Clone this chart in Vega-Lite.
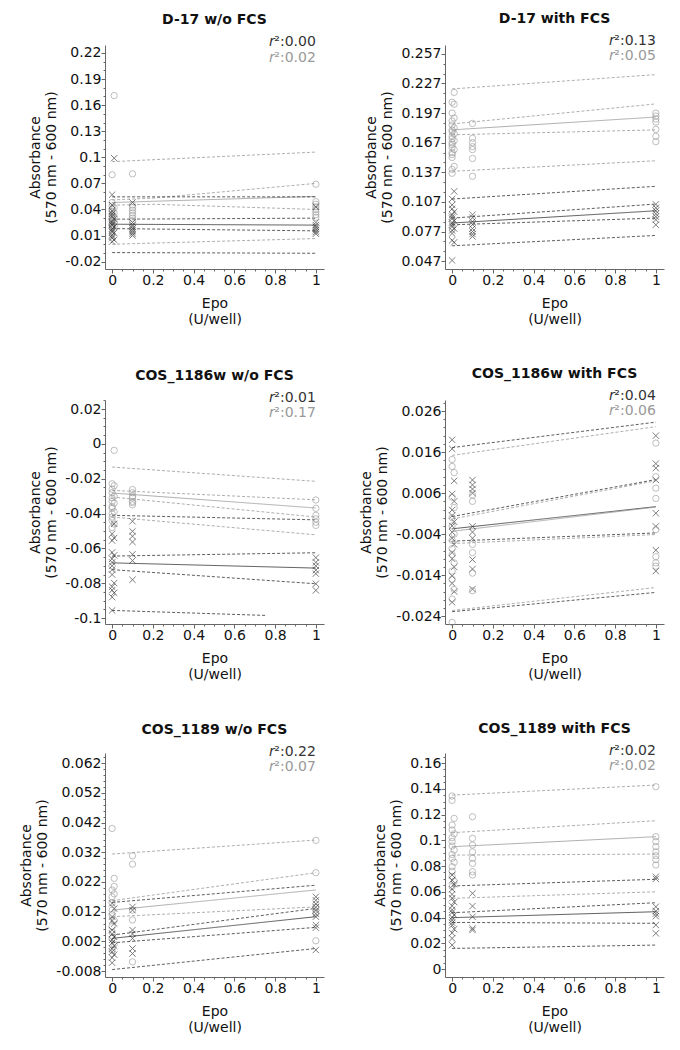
{
"$schema":"https://vega.github.io/schema/vega-lite/v6.json",
"padding":{"left":19,"top":12,"right":5,"bottom":5},
"config":{"font":"DejaVu Sans","view":{"stroke":null},
 "axis":{"grid":false,"labelFontSize":14,"titleFontSize":14,"titleFontWeight":"normal","domainColor":"#666","tickColor":"#666","labelColor":"#111","titleColor":"#111","tickSize":4,"labelPadding":0,"titleLineHeight":16,"labelOverlap":false},
 "axisX":{"titlePadding":9},
 "axisY":{"titlePadding":6},
 "title":{"fontSize":14,"fontWeight":"bold","color":"#111","offset":8}},
"datasets":{
"pts":[
{"p":1,"g":"g","x":0.01,"y":0.171},{"p":1,"g":"g","x":0,"y":0.080},{"p":1,"g":"g","x":0,"y":0.048},{"p":1,"g":"g","x":0,"y":0.044},{"p":1,"g":"g","x":0.01,"y":0.042},{"p":1,"g":"g","x":0,"y":0.040},{"p":1,"g":"g","x":0,"y":0.038},{"p":1,"g":"g","x":0.01,"y":0.036},{"p":1,"g":"g","x":0,"y":0.034},{"p":1,"g":"g","x":0,"y":0.032},{"p":1,"g":"g","x":0.01,"y":0.031},{"p":1,"g":"g","x":0,"y":0.029},{"p":1,"g":"g","x":0,"y":0.027},{"p":1,"g":"g","x":0.01,"y":0.026},{"p":1,"g":"g","x":0,"y":0.024},{"p":1,"g":"g","x":0,"y":0.022},{"p":1,"g":"g","x":0.01,"y":0.021},{"p":1,"g":"g","x":0,"y":0.019},
{"p":1,"g":"g","x":0.1,"y":0.081},{"p":1,"g":"g","x":0.1,"y":0.045},{"p":1,"g":"g","x":0.1,"y":0.042},{"p":1,"g":"g","x":0.1,"y":0.039},{"p":1,"g":"g","x":0.1,"y":0.036},{"p":1,"g":"g","x":0.1,"y":0.033},{"p":1,"g":"g","x":0.1,"y":0.030},{"p":1,"g":"g","x":0.1,"y":0.027},
{"p":1,"g":"g","x":1,"y":0.069},{"p":1,"g":"g","x":1,"y":0.049},{"p":1,"g":"g","x":1,"y":0.046},{"p":1,"g":"g","x":1,"y":0.043},{"p":1,"g":"g","x":1,"y":0.040},{"p":1,"g":"g","x":1,"y":0.037},{"p":1,"g":"g","x":1,"y":0.034},{"p":1,"g":"g","x":1,"y":0.031},
{"p":1,"g":"b","x":0.01,"y":0.099},{"p":1,"g":"b","x":0,"y":0.057},{"p":1,"g":"b","x":0,"y":0.045},{"p":1,"g":"b","x":0,"y":0.038},{"p":1,"g":"b","x":0,"y":0.035},{"p":1,"g":"b","x":0,"y":0.032},{"p":1,"g":"b","x":0.01,"y":0.029},{"p":1,"g":"b","x":0,"y":0.026},{"p":1,"g":"b","x":0,"y":0.024},{"p":1,"g":"b","x":0,"y":0.022},{"p":1,"g":"b","x":0.01,"y":0.020},{"p":1,"g":"b","x":0,"y":0.018},{"p":1,"g":"b","x":0,"y":0.016},{"p":1,"g":"b","x":0,"y":0.014},{"p":1,"g":"b","x":0.01,"y":0.013},{"p":1,"g":"b","x":0,"y":0.011},{"p":1,"g":"b","x":0,"y":0.009},{"p":1,"g":"b","x":0,"y":0.007},{"p":1,"g":"b","x":0.01,"y":0.005},{"p":1,"g":"b","x":0,"y":0.003},
{"p":1,"g":"b","x":0.1,"y":0.048},{"p":1,"g":"b","x":0.1,"y":0.025},{"p":1,"g":"b","x":0.1,"y":0.022},{"p":1,"g":"b","x":0.1,"y":0.020},{"p":1,"g":"b","x":0.1,"y":0.018},{"p":1,"g":"b","x":0.1,"y":0.016},{"p":1,"g":"b","x":0.1,"y":0.014},{"p":1,"g":"b","x":0.1,"y":0.012},{"p":1,"g":"b","x":0.1,"y":0.010},
{"p":1,"g":"b","x":1,"y":0.043},{"p":1,"g":"b","x":1,"y":0.025},{"p":1,"g":"b","x":1,"y":0.022},{"p":1,"g":"b","x":1,"y":0.020},{"p":1,"g":"b","x":1,"y":0.018},{"p":1,"g":"b","x":1,"y":0.016},{"p":1,"g":"b","x":1,"y":0.014},{"p":1,"g":"b","x":1,"y":0.012},

{"p":2,"g":"g","x":0.01,"y":0.218},{"p":2,"g":"g","x":0,"y":0.208},{"p":2,"g":"g","x":0.01,"y":0.206},{"p":2,"g":"g","x":0,"y":0.197},{"p":2,"g":"g","x":0.01,"y":0.192},{"p":2,"g":"g","x":0,"y":0.189},{"p":2,"g":"g","x":0,"y":0.185},{"p":2,"g":"g","x":0.01,"y":0.182},{"p":2,"g":"g","x":0,"y":0.180},{"p":2,"g":"g","x":0,"y":0.178},{"p":2,"g":"g","x":0.01,"y":0.176},{"p":2,"g":"g","x":0,"y":0.1735},{"p":2,"g":"g","x":0,"y":0.171},{"p":2,"g":"g","x":0.01,"y":0.169},{"p":2,"g":"g","x":0,"y":0.167},{"p":2,"g":"g","x":0,"y":0.165},{"p":2,"g":"g","x":0,"y":0.162},{"p":2,"g":"g","x":0.01,"y":0.160},{"p":2,"g":"g","x":0,"y":0.157},{"p":2,"g":"g","x":0,"y":0.155},{"p":2,"g":"g","x":0,"y":0.152},{"p":2,"g":"g","x":0.01,"y":0.143},{"p":2,"g":"g","x":0,"y":0.140},{"p":2,"g":"g","x":0,"y":0.136},
{"p":2,"g":"g","x":0.1,"y":0.1865},{"p":2,"g":"g","x":0.1,"y":0.1715},{"p":2,"g":"g","x":0.1,"y":0.167},{"p":2,"g":"g","x":0.1,"y":0.163},{"p":2,"g":"g","x":0.1,"y":0.160},{"p":2,"g":"g","x":0.1,"y":0.151},{"p":2,"g":"g","x":0.1,"y":0.133},
{"p":2,"g":"g","x":1,"y":0.197},{"p":2,"g":"g","x":1,"y":0.194},{"p":2,"g":"g","x":1,"y":0.191},{"p":2,"g":"g","x":1,"y":0.188},{"p":2,"g":"g","x":1,"y":0.1805},{"p":2,"g":"g","x":1,"y":0.1735},{"p":2,"g":"g","x":1,"y":0.168},
{"p":2,"g":"b","x":0.01,"y":0.1177},{"p":2,"g":"b","x":0,"y":0.110},{"p":2,"g":"b","x":0,"y":0.104},{"p":2,"g":"b","x":0,"y":0.100},{"p":2,"g":"b","x":0.01,"y":0.097},{"p":2,"g":"b","x":0,"y":0.094},{"p":2,"g":"b","x":0,"y":0.092},{"p":2,"g":"b","x":0,"y":0.090},{"p":2,"g":"b","x":0.01,"y":0.088},{"p":2,"g":"b","x":0,"y":0.086},{"p":2,"g":"b","x":0,"y":0.084},{"p":2,"g":"b","x":0,"y":0.082},{"p":2,"g":"b","x":0.01,"y":0.080},{"p":2,"g":"b","x":0,"y":0.078},{"p":2,"g":"b","x":0,"y":0.075},{"p":2,"g":"b","x":0,"y":0.068},{"p":2,"g":"b","x":0.01,"y":0.066},{"p":2,"g":"b","x":0,"y":0.0477},
{"p":2,"g":"b","x":0.1,"y":0.094},{"p":2,"g":"b","x":0.1,"y":0.091},{"p":2,"g":"b","x":0.1,"y":0.087},{"p":2,"g":"b","x":0.1,"y":0.084},{"p":2,"g":"b","x":0.1,"y":0.080},{"p":2,"g":"b","x":0.1,"y":0.077},{"p":2,"g":"b","x":0.1,"y":0.0744},{"p":2,"g":"b","x":0.1,"y":0.072},
{"p":2,"g":"b","x":1,"y":0.1045},{"p":2,"g":"b","x":1,"y":0.101},{"p":2,"g":"b","x":1,"y":0.098},{"p":2,"g":"b","x":1,"y":0.095},{"p":2,"g":"b","x":1,"y":0.092},{"p":2,"g":"b","x":1,"y":0.089},{"p":2,"g":"b","x":1,"y":0.0838},

{"p":3,"g":"g","x":0.01,"y":-0.0037},{"p":3,"g":"g","x":0,"y":-0.0229},{"p":3,"g":"g","x":0.01,"y":-0.024},{"p":3,"g":"g","x":0,"y":-0.026},{"p":3,"g":"g","x":0,"y":-0.028},{"p":3,"g":"g","x":0.01,"y":-0.030},{"p":3,"g":"g","x":0,"y":-0.031},{"p":3,"g":"g","x":0,"y":-0.033},{"p":3,"g":"g","x":0.01,"y":-0.034},{"p":3,"g":"g","x":0,"y":-0.036},{"p":3,"g":"g","x":0,"y":-0.037},{"p":3,"g":"g","x":0.01,"y":-0.039},{"p":3,"g":"g","x":0,"y":-0.040},{"p":3,"g":"g","x":0,"y":-0.042},{"p":3,"g":"g","x":0,"y":-0.044},{"p":3,"g":"g","x":0.01,"y":-0.046},{"p":3,"g":"g","x":0,"y":-0.048},
{"p":3,"g":"g","x":0.1,"y":-0.0262},{"p":3,"g":"g","x":0.1,"y":-0.028},{"p":3,"g":"g","x":0.1,"y":-0.030},{"p":3,"g":"g","x":0.1,"y":-0.031},{"p":3,"g":"g","x":0.1,"y":-0.033},{"p":3,"g":"g","x":0.1,"y":-0.0337},{"p":3,"g":"g","x":0.1,"y":-0.035},
{"p":3,"g":"g","x":1,"y":-0.0322},{"p":3,"g":"g","x":1,"y":-0.037},{"p":3,"g":"g","x":1,"y":-0.041},{"p":3,"g":"g","x":1,"y":-0.043},{"p":3,"g":"g","x":1,"y":-0.045},{"p":3,"g":"g","x":1,"y":-0.0468},
{"p":3,"g":"b","x":0.01,"y":-0.0459},{"p":3,"g":"b","x":0,"y":-0.0516},{"p":3,"g":"b","x":0.01,"y":-0.054},{"p":3,"g":"b","x":0,"y":-0.0555},{"p":3,"g":"b","x":0,"y":-0.0623},{"p":3,"g":"b","x":0.01,"y":-0.064},{"p":3,"g":"b","x":0,"y":-0.066},{"p":3,"g":"b","x":0,"y":-0.068},{"p":3,"g":"b","x":0,"y":-0.070},{"p":3,"g":"b","x":0,"y":-0.0722},{"p":3,"g":"b","x":0,"y":-0.075},{"p":3,"g":"b","x":0.01,"y":-0.0799},{"p":3,"g":"b","x":0,"y":-0.082},{"p":3,"g":"b","x":0,"y":-0.084},{"p":3,"g":"b","x":0.01,"y":-0.0855},{"p":3,"g":"b","x":0,"y":-0.088},{"p":3,"g":"b","x":0,"y":-0.0956},
{"p":3,"g":"b","x":0.1,"y":-0.0444},{"p":3,"g":"b","x":0.1,"y":-0.0502},{"p":3,"g":"b","x":0.1,"y":-0.053},{"p":3,"g":"b","x":0.1,"y":-0.0563},{"p":3,"g":"b","x":0.1,"y":-0.0634},{"p":3,"g":"b","x":0.1,"y":-0.067},{"p":3,"g":"b","x":0.1,"y":-0.078},
{"p":3,"g":"b","x":1,"y":-0.0653},{"p":3,"g":"b","x":1,"y":-0.068},{"p":3,"g":"b","x":1,"y":-0.070},{"p":3,"g":"b","x":1,"y":-0.0725},{"p":3,"g":"b","x":1,"y":-0.0745},{"p":3,"g":"b","x":1,"y":-0.0803},{"p":3,"g":"b","x":1,"y":-0.0841},

{"p":4,"g":"b","x":0,"y":0.019},{"p":4,"g":"b","x":0,"y":0.0168},{"p":4,"g":"b","x":0.01,"y":0.009},{"p":4,"g":"b","x":0,"y":0.0058},{"p":4,"g":"b","x":0.01,"y":0.004},{"p":4,"g":"b","x":0,"y":0.0019},{"p":4,"g":"b","x":0,"y":0.0005},{"p":4,"g":"b","x":0.01,"y":-0.001},{"p":4,"g":"b","x":0,"y":-0.002},{"p":4,"g":"b","x":0,"y":-0.0035},{"p":4,"g":"b","x":0,"y":-0.005},{"p":4,"g":"b","x":0.01,"y":-0.0065},{"p":4,"g":"b","x":0,"y":-0.0085},{"p":4,"g":"b","x":0,"y":-0.010},{"p":4,"g":"b","x":0.01,"y":-0.012},{"p":4,"g":"b","x":0,"y":-0.0142},{"p":4,"g":"b","x":0,"y":-0.016},{"p":4,"g":"b","x":0.01,"y":-0.018},{"p":4,"g":"b","x":0,"y":-0.0206},
{"p":4,"g":"g","x":0,"y":0.0142},{"p":4,"g":"g","x":0,"y":0.0125},{"p":4,"g":"g","x":0.01,"y":0.011},{"p":4,"g":"g","x":0,"y":0.005},{"p":4,"g":"g","x":0.01,"y":0.0025},{"p":4,"g":"g","x":0,"y":0.000},{"p":4,"g":"g","x":0,"y":-0.002},{"p":4,"g":"g","x":0.01,"y":-0.004},{"p":4,"g":"g","x":0,"y":-0.0055},{"p":4,"g":"g","x":0,"y":-0.0075},{"p":4,"g":"g","x":0,"y":-0.009},{"p":4,"g":"g","x":0.01,"y":-0.011},{"p":4,"g":"g","x":0,"y":-0.013},{"p":4,"g":"g","x":0,"y":-0.015},{"p":4,"g":"g","x":0.01,"y":-0.0175},{"p":4,"g":"g","x":0,"y":-0.0198},{"p":4,"g":"g","x":0,"y":-0.0255},
{"p":4,"g":"b","x":0.1,"y":0.0092},{"p":4,"g":"b","x":0.1,"y":0.008},{"p":4,"g":"b","x":0.1,"y":0.007},{"p":4,"g":"b","x":0.1,"y":0.006},{"p":4,"g":"b","x":0.1,"y":-0.0021},{"p":4,"g":"b","x":0.1,"y":-0.0035},{"p":4,"g":"b","x":0.1,"y":-0.005},{"p":4,"g":"b","x":0.1,"y":-0.0102},{"p":4,"g":"b","x":0.1,"y":-0.0125},{"p":4,"g":"b","x":0.1,"y":-0.0174},
{"p":4,"g":"g","x":0.1,"y":0.0055},{"p":4,"g":"g","x":0.1,"y":0.004},{"p":4,"g":"g","x":0.1,"y":-0.0065},{"p":4,"g":"g","x":0.1,"y":-0.0085},{"p":4,"g":"g","x":0.1,"y":-0.0135},{"p":4,"g":"g","x":0.1,"y":-0.0178},
{"p":4,"g":"b","x":1,"y":0.020},{"p":4,"g":"b","x":1,"y":0.0132},{"p":4,"g":"b","x":1,"y":0.0121},{"p":4,"g":"b","x":1,"y":0.0092},{"p":4,"g":"b","x":1,"y":0.0011},{"p":4,"g":"b","x":1,"y":-0.0021},{"p":4,"g":"b","x":1,"y":-0.0079},{"p":4,"g":"b","x":1,"y":-0.013},
{"p":4,"g":"g","x":1,"y":0.0182},{"p":4,"g":"g","x":1,"y":0.010},{"p":4,"g":"g","x":1,"y":0.0072},{"p":4,"g":"g","x":1,"y":0.0047},{"p":4,"g":"g","x":1,"y":-0.0029},{"p":4,"g":"g","x":1,"y":-0.0095},{"p":4,"g":"g","x":1,"y":-0.011},{"p":4,"g":"g","x":1,"y":-0.0118},

{"p":5,"g":"g","x":0,"y":0.040},{"p":5,"g":"g","x":0.01,"y":0.0232},{"p":5,"g":"g","x":0.01,"y":0.0205},{"p":5,"g":"g","x":0,"y":0.0193},{"p":5,"g":"g","x":0.01,"y":0.018},{"p":5,"g":"g","x":0,"y":0.017},{"p":5,"g":"g","x":0,"y":0.015},{"p":5,"g":"g","x":0,"y":0.0125},{"p":5,"g":"g","x":0,"y":0.011},{"p":5,"g":"g","x":0.01,"y":0.009},{"p":5,"g":"g","x":0,"y":0.007},{"p":5,"g":"g","x":0,"y":0.005},{"p":5,"g":"g","x":0,"y":0.003},{"p":5,"g":"g","x":0.01,"y":0.001},{"p":5,"g":"g","x":0,"y":-0.001},
{"p":5,"g":"b","x":0,"y":0.0148},{"p":5,"g":"b","x":0.01,"y":0.013},{"p":5,"g":"b","x":0,"y":0.0103},{"p":5,"g":"b","x":0,"y":0.009},{"p":5,"g":"b","x":0.01,"y":0.008},{"p":5,"g":"b","x":0,"y":0.0058},{"p":5,"g":"b","x":0,"y":0.0045},{"p":5,"g":"b","x":0.01,"y":0.0035},{"p":5,"g":"b","x":0,"y":0.0025},{"p":5,"g":"b","x":0,"y":0.0015},{"p":5,"g":"b","x":0.01,"y":0.0005},{"p":5,"g":"b","x":0,"y":-0.0005},{"p":5,"g":"b","x":0,"y":-0.0015},{"p":5,"g":"b","x":0.01,"y":-0.0025},{"p":5,"g":"b","x":0,"y":-0.0035},{"p":5,"g":"b","x":0,"y":-0.0052},
{"p":5,"g":"g","x":0.1,"y":0.0308},{"p":5,"g":"g","x":0.1,"y":0.028},{"p":5,"g":"g","x":0.1,"y":0.0125},{"p":5,"g":"g","x":0.1,"y":0.0092},{"p":5,"g":"g","x":0.1,"y":-0.0049},
{"p":5,"g":"b","x":0.1,"y":0.0136},{"p":5,"g":"b","x":0.1,"y":0.0125},{"p":5,"g":"b","x":0.1,"y":0.0058},{"p":5,"g":"b","x":0.1,"y":0.0045},{"p":5,"g":"b","x":0.1,"y":0.003},{"p":5,"g":"b","x":0.1,"y":-0.0004},{"p":5,"g":"b","x":0.1,"y":-0.0021},
{"p":5,"g":"g","x":1,"y":0.036},{"p":5,"g":"g","x":1,"y":0.0251},{"p":5,"g":"g","x":1,"y":0.0135},{"p":5,"g":"g","x":1,"y":0.0115},{"p":5,"g":"g","x":1,"y":0.0022},
{"p":5,"g":"b","x":1,"y":0.017},{"p":5,"g":"b","x":1,"y":0.0158},{"p":5,"g":"b","x":1,"y":0.0146},{"p":5,"g":"b","x":1,"y":0.0135},{"p":5,"g":"b","x":1,"y":0.0124},{"p":5,"g":"b","x":1,"y":0.0113},{"p":5,"g":"b","x":1,"y":0.0103},{"p":5,"g":"b","x":1,"y":0.0075},{"p":5,"g":"b","x":1,"y":0.0066},{"p":5,"g":"b","x":1,"y":-0.0009},

{"p":6,"g":"g","x":0,"y":0.1344},{"p":6,"g":"g","x":0,"y":0.131},{"p":6,"g":"g","x":0.01,"y":0.117},{"p":6,"g":"g","x":0,"y":0.1118},{"p":6,"g":"g","x":0,"y":0.108},{"p":6,"g":"g","x":0.01,"y":0.105},{"p":6,"g":"g","x":0,"y":0.102},{"p":6,"g":"g","x":0,"y":0.099},{"p":6,"g":"g","x":0,"y":0.0955},{"p":6,"g":"g","x":0.01,"y":0.0924},{"p":6,"g":"g","x":0,"y":0.089},{"p":6,"g":"g","x":0,"y":0.086},{"p":6,"g":"g","x":0.01,"y":0.083},{"p":6,"g":"g","x":0,"y":0.0795},{"p":6,"g":"g","x":0,"y":0.076},{"p":6,"g":"g","x":0,"y":0.072},{"p":6,"g":"g","x":0.01,"y":0.068},{"p":6,"g":"g","x":0,"y":0.064},
{"p":6,"g":"b","x":0,"y":0.073},{"p":6,"g":"b","x":0,"y":0.069},{"p":6,"g":"b","x":0.01,"y":0.066},{"p":6,"g":"b","x":0,"y":0.062},{"p":6,"g":"b","x":0,"y":0.058},{"p":6,"g":"b","x":0,"y":0.055},{"p":6,"g":"b","x":0.01,"y":0.052},{"p":6,"g":"b","x":0,"y":0.049},{"p":6,"g":"b","x":0,"y":0.046},{"p":6,"g":"b","x":0,"y":0.044},{"p":6,"g":"b","x":0.01,"y":0.042},{"p":6,"g":"b","x":0,"y":0.040},{"p":6,"g":"b","x":0,"y":0.038},{"p":6,"g":"b","x":0,"y":0.036},{"p":6,"g":"b","x":0,"y":0.034},{"p":6,"g":"b","x":0.01,"y":0.031},{"p":6,"g":"b","x":0,"y":0.028},{"p":6,"g":"b","x":0,"y":0.0238},{"p":6,"g":"b","x":0,"y":0.0186},
{"p":6,"g":"g","x":0.1,"y":0.1183},{"p":6,"g":"g","x":0.1,"y":0.1015},{"p":6,"g":"g","x":0.1,"y":0.0963},{"p":6,"g":"g","x":0.1,"y":0.091},{"p":6,"g":"g","x":0.1,"y":0.086},{"p":6,"g":"g","x":0.1,"y":0.082},{"p":6,"g":"g","x":0.1,"y":0.0756},{"p":6,"g":"g","x":0.1,"y":0.073},
{"p":6,"g":"b","x":0.1,"y":0.0588},{"p":6,"g":"b","x":0.1,"y":0.0489},{"p":6,"g":"b","x":0.1,"y":0.0406},{"p":6,"g":"b","x":0.1,"y":0.0316},{"p":6,"g":"b","x":0.1,"y":0.0303},
{"p":6,"g":"g","x":1,"y":0.1416},{"p":6,"g":"g","x":1,"y":0.1028},{"p":6,"g":"g","x":1,"y":0.099},{"p":6,"g":"g","x":1,"y":0.095},{"p":6,"g":"g","x":1,"y":0.091},{"p":6,"g":"g","x":1,"y":0.088},{"p":6,"g":"g","x":1,"y":0.085},{"p":6,"g":"g","x":1,"y":0.0808},
{"p":6,"g":"b","x":1,"y":0.0717},{"p":6,"g":"b","x":1,"y":0.070},{"p":6,"g":"b","x":1,"y":0.0484},{"p":6,"g":"b","x":1,"y":0.045},{"p":6,"g":"b","x":1,"y":0.043},{"p":6,"g":"b","x":1,"y":0.041},{"p":6,"g":"b","x":1,"y":0.0342},{"p":6,"g":"b","x":1,"y":0.0277}
],
"lns":[
{"p":1,"g":"g","id":"gpu","k":"band","x":0,"y":0.095},{"p":1,"g":"g","id":"gpu","k":"band","x":1,"y":0.106},
{"p":1,"g":"g","id":"gcu","k":"band","x":0,"y":0.051},{"p":1,"g":"g","id":"gcu","k":"band","x":0.2,"y":0.053},{"p":1,"g":"g","id":"gcu","k":"band","x":1,"y":0.070},
{"p":1,"g":"g","id":"gfit","k":"fit","x":0,"y":0.048},{"p":1,"g":"g","id":"gfit","k":"fit","x":1,"y":0.055},
{"p":1,"g":"g","id":"gcl","k":"band","x":0,"y":0.045},{"p":1,"g":"g","id":"gcl","k":"band","x":0.2,"y":0.046},{"p":1,"g":"g","id":"gcl","k":"band","x":1,"y":0.040},
{"p":1,"g":"g","id":"gpl","k":"band","x":0,"y":0.0},{"p":1,"g":"g","id":"gpl","k":"band","x":1,"y":0.0065},
{"p":1,"g":"b","id":"bpu","k":"band","x":0,"y":0.0545},{"p":1,"g":"b","id":"bpu","k":"band","x":1,"y":0.0545},
{"p":1,"g":"b","id":"bcu","k":"band","x":0,"y":0.0288},{"p":1,"g":"b","id":"bcu","k":"band","x":1,"y":0.030},
{"p":1,"g":"b","id":"bfit","k":"fit","x":0,"y":0.023},{"p":1,"g":"b","id":"bfit","k":"fit","x":1,"y":0.022},
{"p":1,"g":"b","id":"bcl","k":"band","x":0,"y":0.018},{"p":1,"g":"b","id":"bcl","k":"band","x":1,"y":0.0154},
{"p":1,"g":"b","id":"bpl","k":"band","x":0,"y":-0.0096},{"p":1,"g":"b","id":"bpl","k":"band","x":1,"y":-0.0104},

{"p":2,"g":"g","id":"gpu","k":"band","x":0,"y":0.2215},{"p":2,"g":"g","id":"gpu","k":"band","x":1,"y":0.236},
{"p":2,"g":"g","id":"gcu","k":"band","x":0,"y":0.186},{"p":2,"g":"g","id":"gcu","k":"band","x":1,"y":0.2063},
{"p":2,"g":"g","id":"gfit","k":"fit","x":0,"y":0.180},{"p":2,"g":"g","id":"gfit","k":"fit","x":1,"y":0.193},
{"p":2,"g":"g","id":"gcl","k":"band","x":0,"y":0.175},{"p":2,"g":"g","id":"gcl","k":"band","x":1,"y":0.180},
{"p":2,"g":"g","id":"gpl","k":"band","x":0,"y":0.138},{"p":2,"g":"g","id":"gpl","k":"band","x":1,"y":0.1487},
{"p":2,"g":"b","id":"bpu","k":"band","x":0,"y":0.1099},{"p":2,"g":"b","id":"bpu","k":"band","x":1,"y":0.1228},
{"p":2,"g":"b","id":"bcu","k":"band","x":0,"y":0.0906},{"p":2,"g":"b","id":"bcu","k":"band","x":1,"y":0.1048},
{"p":2,"g":"b","id":"bfit","k":"fit","x":0,"y":0.0856},{"p":2,"g":"b","id":"bfit","k":"fit","x":1,"y":0.098},
{"p":2,"g":"b","id":"bcl","k":"band","x":0,"y":0.0838},{"p":2,"g":"b","id":"bcl","k":"band","x":1,"y":0.0906},
{"p":2,"g":"b","id":"bpl","k":"band","x":0,"y":0.0625},{"p":2,"g":"b","id":"bpl","k":"band","x":1,"y":0.073},

{"p":3,"g":"g","id":"gpu","k":"band","x":0,"y":-0.0133},{"p":3,"g":"g","id":"gpu","k":"band","x":1,"y":-0.0215},
{"p":3,"g":"g","id":"gcu","k":"band","x":0,"y":-0.0267},{"p":3,"g":"g","id":"gcu","k":"band","x":1,"y":-0.0321},
{"p":3,"g":"g","id":"gfit","k":"fit","x":0,"y":-0.0282},{"p":3,"g":"g","id":"gfit","k":"fit","x":1,"y":-0.0368},
{"p":3,"g":"g","id":"gcl","k":"band","x":0,"y":-0.0305},{"p":3,"g":"g","id":"gcl","k":"band","x":1,"y":-0.042},
{"p":3,"g":"g","id":"gpl","k":"band","x":0,"y":-0.042},{"p":3,"g":"g","id":"gpl","k":"band","x":1,"y":-0.0522},
{"p":3,"g":"b","id":"bpu","k":"band","x":0,"y":-0.041},{"p":3,"g":"b","id":"bpu","k":"band","x":1,"y":-0.0436},
{"p":3,"g":"b","id":"bcu","k":"band","x":0,"y":-0.0644},{"p":3,"g":"b","id":"bcu","k":"band","x":1,"y":-0.0625},
{"p":3,"g":"b","id":"bfit","k":"fit","x":0,"y":-0.0683},{"p":3,"g":"b","id":"bfit","k":"fit","x":1,"y":-0.0713},
{"p":3,"g":"b","id":"bcl","k":"band","x":0,"y":-0.0722},{"p":3,"g":"b","id":"bcl","k":"band","x":1,"y":-0.0803},
{"p":3,"g":"b","id":"bpl","k":"band","x":0,"y":-0.0956},{"p":3,"g":"b","id":"bpl","k":"band","x":0.76,"y":-0.0985},

{"p":4,"g":"b","id":"bpu","k":"band","x":0,"y":0.0171},{"p":4,"g":"b","id":"bpu","k":"band","x":1,"y":0.0233},
{"p":4,"g":"b","id":"bcu","k":"band","x":0,"y":0.0003},{"p":4,"g":"b","id":"bcu","k":"band","x":1,"y":0.0093},
{"p":4,"g":"b","id":"bfit","k":"fit","x":0,"y":-0.0027},{"p":4,"g":"b","id":"bfit","k":"fit","x":1,"y":0.0027},
{"p":4,"g":"b","id":"bcl","k":"band","x":0,"y":-0.0057},{"p":4,"g":"b","id":"bcl","k":"band","x":1,"y":-0.0037},
{"p":4,"g":"b","id":"bpl","k":"band","x":0,"y":-0.0229},{"p":4,"g":"b","id":"bpl","k":"band","x":1,"y":-0.0182},
{"p":4,"g":"g","id":"gpu","k":"band","x":0,"y":0.0152},{"p":4,"g":"g","id":"gpu","k":"band","x":1,"y":0.0222},
{"p":4,"g":"g","id":"gcu","k":"band","x":0,"y":-0.0003},{"p":4,"g":"g","id":"gcu","k":"band","x":1,"y":0.0090},
{"p":4,"g":"g","id":"gfit","k":"fit","x":0,"y":-0.0033},{"p":4,"g":"g","id":"gfit","k":"fit","x":1,"y":0.0026},
{"p":4,"g":"g","id":"gcl","k":"band","x":0,"y":-0.0063},{"p":4,"g":"g","id":"gcl","k":"band","x":1,"y":-0.0041},
{"p":4,"g":"g","id":"gpl","k":"band","x":0,"y":-0.0226},{"p":4,"g":"g","id":"gpl","k":"band","x":1,"y":-0.017},

{"p":5,"g":"g","id":"gpu","k":"band","x":0,"y":0.0314},{"p":5,"g":"g","id":"gpu","k":"band","x":1,"y":0.0361},
{"p":5,"g":"g","id":"gcu","k":"band","x":0,"y":0.0157},{"p":5,"g":"g","id":"gcu","k":"band","x":1,"y":0.0251},
{"p":5,"g":"g","id":"gfit","k":"fit","x":0,"y":0.0125},{"p":5,"g":"g","id":"gfit","k":"fit","x":1,"y":0.0193},
{"p":5,"g":"g","id":"gcl","k":"band","x":0,"y":0.0103},{"p":5,"g":"g","id":"gcl","k":"band","x":1,"y":0.0136},
{"p":5,"g":"b","id":"bpu","k":"band","x":0,"y":0.0151},{"p":5,"g":"b","id":"bpu","k":"band","x":1,"y":0.0209},
{"p":5,"g":"b","id":"bcu","k":"band","x":0,"y":0.0041},{"p":5,"g":"b","id":"bcu","k":"band","x":1,"y":0.0131},
{"p":5,"g":"b","id":"bfit","k":"fit","x":0,"y":0.003},{"p":5,"g":"b","id":"bfit","k":"fit","x":1,"y":0.0103},
{"p":5,"g":"b","id":"bcl","k":"band","x":0,"y":0.0015},{"p":5,"g":"b","id":"bcl","k":"band","x":1,"y":0.0067},
{"p":5,"g":"b","id":"bpl","k":"band","x":0,"y":-0.0075},{"p":5,"g":"b","id":"bpl","k":"band","x":1,"y":-0.0004},

{"p":6,"g":"g","id":"gpu","k":"band","x":0,"y":0.1351},{"p":6,"g":"g","id":"gpu","k":"band","x":1,"y":0.1429},
{"p":6,"g":"g","id":"gcu","k":"band","x":0,"y":0.1059},{"p":6,"g":"g","id":"gcu","k":"band","x":1,"y":0.1152},
{"p":6,"g":"g","id":"gfit","k":"fit","x":0,"y":0.095},{"p":6,"g":"g","id":"gfit","k":"fit","x":1,"y":0.1028},
{"p":6,"g":"g","id":"gcl","k":"band","x":0,"y":0.0885},{"p":6,"g":"g","id":"gcl","k":"band","x":1,"y":0.0893},
{"p":6,"g":"g","id":"gpl","k":"band","x":0,"y":0.0549},{"p":6,"g":"g","id":"gpl","k":"band","x":1,"y":0.060},
{"p":6,"g":"b","id":"bpu","k":"band","x":0,"y":0.0645},{"p":6,"g":"b","id":"bpu","k":"band","x":1,"y":0.0697},
{"p":6,"g":"b","id":"bcu","k":"band","x":0,"y":0.0437},{"p":6,"g":"b","id":"bcu","k":"band","x":1,"y":0.0515},
{"p":6,"g":"b","id":"bfit","k":"fit","x":0,"y":0.0399},{"p":6,"g":"b","id":"bfit","k":"fit","x":1,"y":0.0445},
{"p":6,"g":"b","id":"bcl","k":"band","x":0,"y":0.0362},{"p":6,"g":"b","id":"bcl","k":"band","x":1,"y":0.0355},
{"p":6,"g":"b","id":"bpl","k":"band","x":0,"y":0.016},{"p":6,"g":"b","id":"bpl","k":"band","x":1,"y":0.0186}
],
"lbl":[
{"p":1,"g":"b","x":1,"y":0.2327,"t":"²:0.00"},{"p":1,"g":"g","x":1,"y":0.2148,"t":"²:0.02"},
{"p":2,"g":"b","x":1,"y":0.2698,"t":"²:0.13"},{"p":2,"g":"g","x":1,"y":0.2545,"t":"²:0.05"},
{"p":3,"g":"b","x":1,"y":0.0265,"t":"²:0.01"},{"p":3,"g":"g","x":1,"y":0.0177,"t":"²:0.17"},
{"p":4,"g":"b","x":1,"y":0.0297,"t":"²:0.04"},{"p":4,"g":"g","x":1,"y":0.0260,"t":"²:0.06"},
{"p":5,"g":"b","x":1,"y":0.0658,"t":"²:0.22"},{"p":5,"g":"g","x":1,"y":0.0606,"t":"²:0.07"},
{"p":6,"g":"b","x":1,"y":0.1694,"t":"²:0.02"},{"p":6,"g":"g","x":1,"y":0.1577,"t":"²:0.02"}
]
},
"columns":2,
"spacing":{"row":40,"column":35},
"concat":[
{"width":219,"height":224,"title":"D-17 w/o FCS",
 "encoding":{"x":{"field":"x","type":"quantitative","scale":{"domain":[-0.035,1.04],"nice":false,"zero":false},"axis":{"values":[0,0.05,0.1,0.15,0.2,0.25,0.3,0.35,0.4,0.45,0.5,0.55,0.6,0.65,0.7,0.75,0.8,0.85,0.9,0.95,1],"labelExpr":"indexof([0,0.2,0.4,0.6,0.8,1], datum.value) >= 0 ? '' + datum.value : ''","tickSize":{"condition":{"test":"indexof([0,0.2,0.4,0.6,0.8,1], datum.value) >= 0","value":4},"value":2},"title":["Epo","(U/well)"]}},
  "y":{"field":"y","type":"quantitative","scale":{"domain":[-0.0285,0.2292],"nice":false,"zero":false},"axis":{"values":[-0.02,-0.01,0,0.01,0.02,0.03,0.04,0.05,0.06,0.07,0.08,0.09,0.1,0.11,0.12,0.13,0.14,0.15,0.16,0.17,0.18,0.19,0.2,0.21,0.22],"labelExpr":"indexof([-0.02,0.01,0.04,0.07,0.1,0.13,0.16,0.19,0.22], datum.value) >= 0 ? '' + datum.value : ''","tickSize":{"condition":{"test":"indexof([-0.02,0.01,0.04,0.07,0.1,0.13,0.16,0.19,0.22], datum.value) >= 0","value":4},"value":2},"title":["Absorbance","(570 nm - 600 nm)"]}}},
 "layer":[
  {"data":{"name":"lns"},"transform":[{"filter":"datum.p==1"}],"mark":{"type":"line","strokeWidth":0.8},"encoding":{"detail":{"field":"id"},"color":{"field":"g","type":"nominal","scale":{"domain":["b","g"],"range":["#333333","#999999"]},"legend":null},"strokeDash":{"field":"k","type":"nominal","scale":{"domain":["fit","band"],"range":[[1,0],[3,2]]},"legend":null}}},
  {"data":{"name":"pts"},"transform":[{"filter":"datum.p==1"}],"mark":{"type":"point","filled":false,"strokeWidth":0.9,"size":40},"encoding":{"shape":{"field":"g","type":"nominal","scale":{"domain":["b","g"],"range":["M-1,-1L1,1M-1,1L1,-1","circle"]},"legend":null},"color":{"field":"g","type":"nominal","legend":null}}},
  {"data":{"name":"lbl"},"transform":[{"filter":"datum.p==1"}],"mark":{"type":"text","align":"right","baseline":"middle","fontSize":14},"encoding":{"text":{"field":"t"},"color":{"field":"g","type":"nominal","legend":null}}},
  {"data":{"name":"lbl"},"transform":[{"filter":"datum.p==1"}],"mark":{"type":"text","align":"right","baseline":"middle","fontSize":14,"fontStyle":"italic","dx":-41},"encoding":{"text":{"value":"r"},"color":{"field":"g","type":"nominal","legend":null}}}
 ]},
{"width":219,"height":224,"title":"D-17 with FCS",
 "encoding":{"x":{"field":"x","type":"quantitative","scale":{"domain":[-0.035,1.04],"nice":false,"zero":false},"axis":{"values":[0,0.05,0.1,0.15,0.2,0.25,0.3,0.35,0.4,0.45,0.5,0.55,0.6,0.65,0.7,0.75,0.8,0.85,0.9,0.95,1],"labelExpr":"indexof([0,0.2,0.4,0.6,0.8,1], datum.value) >= 0 ? '' + datum.value : ''","tickSize":{"condition":{"test":"indexof([0,0.2,0.4,0.6,0.8,1], datum.value) >= 0","value":4},"value":2},"title":["Epo","(U/well)"]}},
  "y":{"field":"y","type":"quantitative","scale":{"domain":[0.039,0.266],"nice":false,"zero":false},"axis":{"values":[0.047,0.057,0.067,0.077,0.087,0.097,0.107,0.117,0.127,0.137,0.147,0.157,0.167,0.177,0.187,0.197,0.207,0.217,0.227,0.237,0.247,0.257],"labelExpr":"indexof([0.047,0.077,0.107,0.137,0.167,0.197,0.227,0.257], datum.value) >= 0 ? '' + datum.value : ''","tickSize":{"condition":{"test":"indexof([0.047,0.077,0.107,0.137,0.167,0.197,0.227,0.257], datum.value) >= 0","value":4},"value":2},"title":["Absorbance","(570 nm - 600 nm)"]}}},
 "layer":[
  {"data":{"name":"lns"},"transform":[{"filter":"datum.p==2"}],"mark":{"type":"line","strokeWidth":0.8},"encoding":{"detail":{"field":"id"},"color":{"field":"g","type":"nominal","scale":{"domain":["b","g"],"range":["#333333","#999999"]},"legend":null},"strokeDash":{"field":"k","type":"nominal","scale":{"domain":["fit","band"],"range":[[1,0],[3,2]]},"legend":null}}},
  {"data":{"name":"pts"},"transform":[{"filter":"datum.p==2"}],"mark":{"type":"point","filled":false,"strokeWidth":0.9,"size":40},"encoding":{"shape":{"field":"g","type":"nominal","scale":{"domain":["b","g"],"range":["M-1,-1L1,1M-1,1L1,-1","circle"]},"legend":null},"color":{"field":"g","type":"nominal","legend":null}}},
  {"data":{"name":"lbl"},"transform":[{"filter":"datum.p==2"}],"mark":{"type":"text","align":"right","baseline":"middle","fontSize":14},"encoding":{"text":{"field":"t"},"color":{"field":"g","type":"nominal","legend":null}}},
  {"data":{"name":"lbl"},"transform":[{"filter":"datum.p==2"}],"mark":{"type":"text","align":"right","baseline":"middle","fontSize":14,"fontStyle":"italic","dx":-41},"encoding":{"text":{"value":"r"},"color":{"field":"g","type":"nominal","legend":null}}}
 ]},
{"width":219,"height":224,"title":"COS_1186w w/o FCS",
 "encoding":{"x":{"field":"x","type":"quantitative","scale":{"domain":[-0.035,1.04],"nice":false,"zero":false},"axis":{"values":[0,0.05,0.1,0.15,0.2,0.25,0.3,0.35,0.4,0.45,0.5,0.55,0.6,0.65,0.7,0.75,0.8,0.85,0.9,0.95,1],"labelExpr":"indexof([0,0.2,0.4,0.6,0.8,1], datum.value) >= 0 ? '' + datum.value : ''","tickSize":{"condition":{"test":"indexof([0,0.2,0.4,0.6,0.8,1], datum.value) >= 0","value":4},"value":2},"title":["Epo","(U/well)"]}},
  "y":{"field":"y","type":"quantitative","scale":{"domain":[-0.1034,0.0252],"nice":false,"zero":false},"axis":{"values":[-0.1,-0.095,-0.09,-0.085,-0.08,-0.075,-0.07,-0.065,-0.06,-0.055,-0.05,-0.045,-0.04,-0.035,-0.03,-0.025,-0.02,-0.015,-0.01,-0.005,0,0.005,0.01,0.015,0.02,0.025],"labelExpr":"indexof([-0.1,-0.08,-0.06,-0.04,-0.02,0,0.02], datum.value) >= 0 ? '' + datum.value : ''","tickSize":{"condition":{"test":"indexof([-0.1,-0.08,-0.06,-0.04,-0.02,0,0.02], datum.value) >= 0","value":4},"value":2},"title":["Absorbance","(570 nm - 600 nm)"]}}},
 "layer":[
  {"data":{"name":"lns"},"transform":[{"filter":"datum.p==3"}],"mark":{"type":"line","strokeWidth":0.8},"encoding":{"detail":{"field":"id"},"color":{"field":"g","type":"nominal","scale":{"domain":["b","g"],"range":["#333333","#999999"]},"legend":null},"strokeDash":{"field":"k","type":"nominal","scale":{"domain":["fit","band"],"range":[[1,0],[3,2]]},"legend":null}}},
  {"data":{"name":"pts"},"transform":[{"filter":"datum.p==3"}],"mark":{"type":"point","filled":false,"strokeWidth":0.9,"size":40},"encoding":{"shape":{"field":"g","type":"nominal","scale":{"domain":["b","g"],"range":["M-1,-1L1,1M-1,1L1,-1","circle"]},"legend":null},"color":{"field":"g","type":"nominal","legend":null}}},
  {"data":{"name":"lbl"},"transform":[{"filter":"datum.p==3"}],"mark":{"type":"text","align":"right","baseline":"middle","fontSize":14},"encoding":{"text":{"field":"t"},"color":{"field":"g","type":"nominal","legend":null}}},
  {"data":{"name":"lbl"},"transform":[{"filter":"datum.p==3"}],"mark":{"type":"text","align":"right","baseline":"middle","fontSize":14,"fontStyle":"italic","dx":-41},"encoding":{"text":{"value":"r"},"color":{"field":"g","type":"nominal","legend":null}}}
 ]},
{"width":219,"height":224,"title":"COS_1186w with FCS",
 "encoding":{"x":{"field":"x","type":"quantitative","scale":{"domain":[-0.035,1.04],"nice":false,"zero":false},"axis":{"values":[0,0.05,0.1,0.15,0.2,0.25,0.3,0.35,0.4,0.45,0.5,0.55,0.6,0.65,0.7,0.75,0.8,0.85,0.9,0.95,1],"labelExpr":"indexof([0,0.2,0.4,0.6,0.8,1], datum.value) >= 0 ? '' + datum.value : ''","tickSize":{"condition":{"test":"indexof([0,0.2,0.4,0.6,0.8,1], datum.value) >= 0","value":4},"value":2},"title":["Epo","(U/well)"]}},
  "y":{"field":"y","type":"quantitative","scale":{"domain":[-0.0259,0.0287],"nice":false,"zero":false},"axis":{"values":[-0.024,-0.022,-0.02,-0.018,-0.016,-0.014,-0.012,-0.01,-0.008,-0.006,-0.004,-0.002,0,0.002,0.004,0.006,0.008,0.01,0.012,0.014,0.016,0.018,0.02,0.022,0.024,0.026,0.028],"labelExpr":"indexof([-0.024,-0.014,-0.004,0.006,0.016,0.026], datum.value) >= 0 ? '' + datum.value : ''","tickSize":{"condition":{"test":"indexof([-0.024,-0.014,-0.004,0.006,0.016,0.026], datum.value) >= 0","value":4},"value":2},"title":["Absorbance","(570 nm - 600 nm)"]}}},
 "layer":[
  {"data":{"name":"lns"},"transform":[{"filter":"datum.p==4"}],"mark":{"type":"line","strokeWidth":0.8},"encoding":{"detail":{"field":"id"},"color":{"field":"g","type":"nominal","scale":{"domain":["b","g"],"range":["#333333","#999999"]},"legend":null},"strokeDash":{"field":"k","type":"nominal","scale":{"domain":["fit","band"],"range":[[1,0],[3,2]]},"legend":null}}},
  {"data":{"name":"pts"},"transform":[{"filter":"datum.p==4"}],"mark":{"type":"point","filled":false,"strokeWidth":0.9,"size":40},"encoding":{"shape":{"field":"g","type":"nominal","scale":{"domain":["b","g"],"range":["M-1,-1L1,1M-1,1L1,-1","circle"]},"legend":null},"color":{"field":"g","type":"nominal","legend":null}}},
  {"data":{"name":"lbl"},"transform":[{"filter":"datum.p==4"}],"mark":{"type":"text","align":"right","baseline":"middle","fontSize":14},"encoding":{"text":{"field":"t"},"color":{"field":"g","type":"nominal","legend":null}}},
  {"data":{"name":"lbl"},"transform":[{"filter":"datum.p==4"}],"mark":{"type":"text","align":"right","baseline":"middle","fontSize":14,"fontStyle":"italic","dx":-41},"encoding":{"text":{"value":"r"},"color":{"field":"g","type":"nominal","legend":null}}}
 ]},
{"width":219,"height":224,"title":"COS_1189 w/o FCS",
 "encoding":{"x":{"field":"x","type":"quantitative","scale":{"domain":[-0.035,1.04],"nice":false,"zero":false},"axis":{"values":[0,0.05,0.1,0.15,0.2,0.25,0.3,0.35,0.4,0.45,0.5,0.55,0.6,0.65,0.7,0.75,0.8,0.85,0.9,0.95,1],"labelExpr":"indexof([0,0.2,0.4,0.6,0.8,1], datum.value) >= 0 ? '' + datum.value : ''","tickSize":{"condition":{"test":"indexof([0,0.2,0.4,0.6,0.8,1], datum.value) >= 0","value":4},"value":2},"title":["Epo","(U/well)"]}},
  "y":{"field":"y","type":"quantitative","scale":{"domain":[-0.0100,0.0654],"nice":false,"zero":false},"axis":{"values":[-0.008,-0.006,-0.004,-0.002,0,0.002,0.004,0.006,0.008,0.01,0.012,0.014,0.016,0.018,0.02,0.022,0.024,0.026,0.028,0.03,0.032,0.034,0.036,0.038,0.04,0.042,0.044,0.046,0.048,0.05,0.052,0.054,0.056,0.058,0.06,0.062,0.064],"labelExpr":"indexof([-0.008,0.002,0.012,0.022,0.032,0.042,0.052,0.062], datum.value) >= 0 ? '' + datum.value : ''","tickSize":{"condition":{"test":"indexof([-0.008,0.002,0.012,0.022,0.032,0.042,0.052,0.062], datum.value) >= 0","value":4},"value":2},"title":["Absorbance","(570 nm - 600 nm)"]}}},
 "layer":[
  {"data":{"name":"lns"},"transform":[{"filter":"datum.p==5"}],"mark":{"type":"line","strokeWidth":0.8},"encoding":{"detail":{"field":"id"},"color":{"field":"g","type":"nominal","scale":{"domain":["b","g"],"range":["#333333","#999999"]},"legend":null},"strokeDash":{"field":"k","type":"nominal","scale":{"domain":["fit","band"],"range":[[1,0],[3,2]]},"legend":null}}},
  {"data":{"name":"pts"},"transform":[{"filter":"datum.p==5"}],"mark":{"type":"point","filled":false,"strokeWidth":0.9,"size":40},"encoding":{"shape":{"field":"g","type":"nominal","scale":{"domain":["b","g"],"range":["M-1,-1L1,1M-1,1L1,-1","circle"]},"legend":null},"color":{"field":"g","type":"nominal","legend":null}}},
  {"data":{"name":"lbl"},"transform":[{"filter":"datum.p==5"}],"mark":{"type":"text","align":"right","baseline":"middle","fontSize":14},"encoding":{"text":{"field":"t"},"color":{"field":"g","type":"nominal","legend":null}}},
  {"data":{"name":"lbl"},"transform":[{"filter":"datum.p==5"}],"mark":{"type":"text","align":"right","baseline":"middle","fontSize":14,"fontStyle":"italic","dx":-41},"encoding":{"text":{"value":"r"},"color":{"field":"g","type":"nominal","legend":null}}}
 ]},
{"width":219,"height":224,"title":"COS_1189 with FCS",
 "encoding":{"x":{"field":"x","type":"quantitative","scale":{"domain":[-0.035,1.04],"nice":false,"zero":false},"axis":{"values":[0,0.05,0.1,0.15,0.2,0.25,0.3,0.35,0.4,0.45,0.5,0.55,0.6,0.65,0.7,0.75,0.8,0.85,0.9,0.95,1],"labelExpr":"indexof([0,0.2,0.4,0.6,0.8,1], datum.value) >= 0 ? '' + datum.value : ''","tickSize":{"condition":{"test":"indexof([0,0.2,0.4,0.6,0.8,1], datum.value) >= 0","value":4},"value":2},"title":["Epo","(U/well)"]}},
  "y":{"field":"y","type":"quantitative","scale":{"domain":[-0.0062,0.1678],"nice":false,"zero":false},"axis":{"values":[0,0.005,0.01,0.015,0.02,0.025,0.03,0.035,0.04,0.045,0.05,0.055,0.06,0.065,0.07,0.075,0.08,0.085,0.09,0.095,0.1,0.105,0.11,0.115,0.12,0.125,0.13,0.135,0.14,0.145,0.15,0.155,0.16,0.165],"labelExpr":"indexof([0,0.02,0.04,0.06,0.08,0.1,0.12,0.14,0.16], datum.value) >= 0 ? '' + datum.value : ''","tickSize":{"condition":{"test":"indexof([0,0.02,0.04,0.06,0.08,0.1,0.12,0.14,0.16], datum.value) >= 0","value":4},"value":2},"title":["Absorbance","(570 nm - 600 nm)"]}}},
 "layer":[
  {"data":{"name":"lns"},"transform":[{"filter":"datum.p==6"}],"mark":{"type":"line","strokeWidth":0.8},"encoding":{"detail":{"field":"id"},"color":{"field":"g","type":"nominal","scale":{"domain":["b","g"],"range":["#333333","#999999"]},"legend":null},"strokeDash":{"field":"k","type":"nominal","scale":{"domain":["fit","band"],"range":[[1,0],[3,2]]},"legend":null}}},
  {"data":{"name":"pts"},"transform":[{"filter":"datum.p==6"}],"mark":{"type":"point","filled":false,"strokeWidth":0.9,"size":40},"encoding":{"shape":{"field":"g","type":"nominal","scale":{"domain":["b","g"],"range":["M-1,-1L1,1M-1,1L1,-1","circle"]},"legend":null},"color":{"field":"g","type":"nominal","legend":null}}},
  {"data":{"name":"lbl"},"transform":[{"filter":"datum.p==6"}],"mark":{"type":"text","align":"right","baseline":"middle","fontSize":14},"encoding":{"text":{"field":"t"},"color":{"field":"g","type":"nominal","legend":null}}},
  {"data":{"name":"lbl"},"transform":[{"filter":"datum.p==6"}],"mark":{"type":"text","align":"right","baseline":"middle","fontSize":14,"fontStyle":"italic","dx":-41},"encoding":{"text":{"value":"r"},"color":{"field":"g","type":"nominal","legend":null}}}
 ]}
]
}
